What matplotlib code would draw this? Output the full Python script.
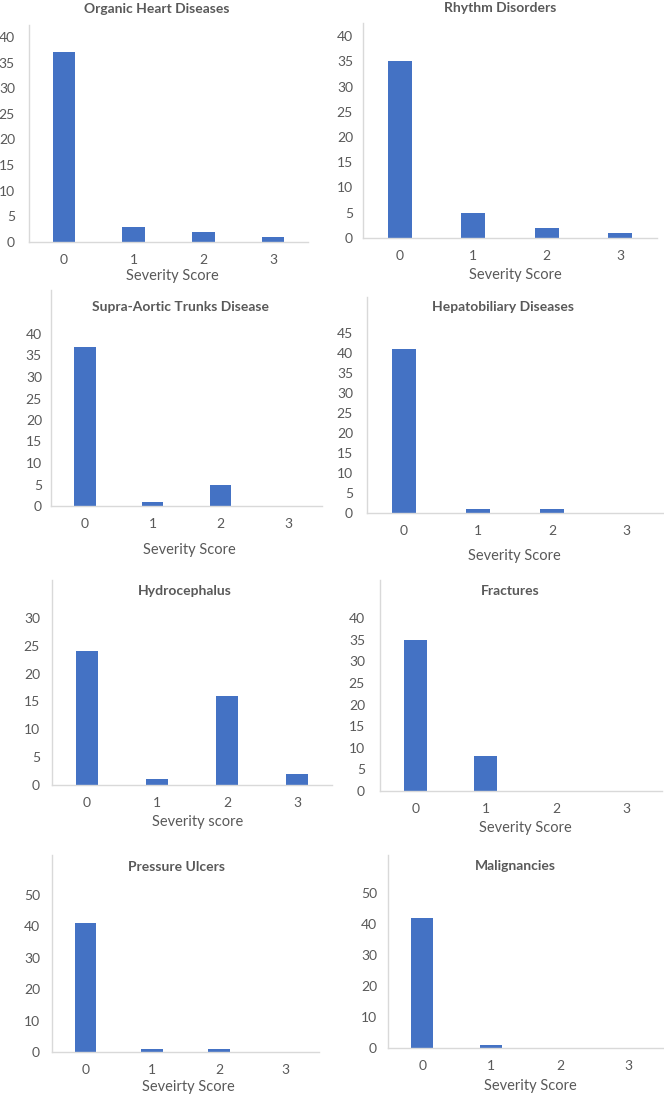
import numpy as np
import matplotlib
matplotlib.use("Agg")
from matplotlib import pyplot as plt

plt.rcParams['font.family'] = ['Lato', 'DejaVu Sans']

# data
scores = [0, 1, 2, 3]
titles = ["Organic Heart Diseases", "Rhythm Disorders",
          "Supra-Aortic Trunks Disease", "Hepatobiliary Diseases",
          "Hydrocephalus", "Fractures",
          "Pressure Ulcers", "Malignancies"]
xlabels = ["Severity Score", "Severity Score",
           "Severity Score", "Severity Score",
           "Severity score", "Severity Score",
           "Seveirty Score", "Severity Score"]
organic_heart = [37, 3, 2, 1]
rhythm = [35, 5, 2, 1]
supra_aortic = [37, 1, 5, 0]
hepatobiliary = [41, 1, 1, 0]
hydrocephalus = [24, 1, 16, 2]
fractures = [35, 8, 0, 0]
pressure_ulcers = [41, 1, 1, 0]
malignancies = [42, 1, 0, 0]
series = [organic_heart, rhythm, supra_aortic, hepatobiliary,
          hydrocephalus, fractures, pressure_ulcers, malignancies]
y_max = [40, 40, 40, 45, 30, 40, 50, 50]
y_step = [5, 5, 5, 5, 5, 5, 10, 10]

# layout in pixels: axes left, right, top, bottom, label value top, title (x, y), xlabel (x, y), ytick pad
W, H = 664, 1095
layout = [
    (29, 308, 25, 242, 37, (157, 9), (172, 276), 14),
    (363, 657, 23, 238, 36, (500, 8), (515, 275), 10),
    (51, 322, 290, 506, 334, (181, 307), (189, 550), 9),
    (367, 663, 297, 513, 333, (503, 307), (514, 556), 14),
    (52, 332, 580, 785, 618, (185, 591), (198, 822), 12),
    (380, 662, 580, 791, 618, (510, 591), (525, 828), 15),
    (52, 319, 855, 1052, 895, (177, 867), (188, 1087), 12),
    (388, 663, 855, 1048, 893, (515, 866), (530, 1086), 11),
]

bar_color = "#4472C4"
text_color = "#595959"
line_color = "#D9D9D9"

fig = plt.figure(figsize=(W / 100, H / 100), dpi=100)

for i, vals in enumerate(series):
    left, right, top, bottom, lab_top, tpos, xpos, pad = layout[i]
    ax = fig.add_axes([left / W, 1 - bottom / H, (right - left) / W, (bottom - top) / H])
    ax.bar(scores, vals, width=0.32, color=bar_color)
    ax.set_xlim(-0.5, 3.5)
    ytop = y_max[i] * (bottom - top) / (bottom - lab_top)
    ax.set_ylim(0, ytop)
    ax.set_yticks(np.arange(0, y_max[i] + 1, y_step[i]))
    ax.set_xticks(scores)
    for s in ["top", "right"]:
        ax.spines[s].set_visible(False)
    for s in ["left", "bottom"]:
        ax.spines[s].set_color(line_color)
        ax.spines[s].set_linewidth(1.0)
    ax.tick_params(axis="x", length=0, pad=8.5, labelsize=10, labelcolor=text_color)
    ax.tick_params(axis="y", length=0, pad=pad * 0.72, labelsize=10, labelcolor=text_color)
    ax.patch.set_alpha(0)
    fig.text(tpos[0] / W, 1 - tpos[1] / H, titles[i], ha="center", va="center",
             fontsize=10, fontweight="bold", color=text_color)
    fig.text(xpos[0] / W, 1 - xpos[1] / H, xlabels[i], ha="center", va="center",
             fontsize=10.5, color=text_color)

fig.savefig("out.png", dpi=100)
